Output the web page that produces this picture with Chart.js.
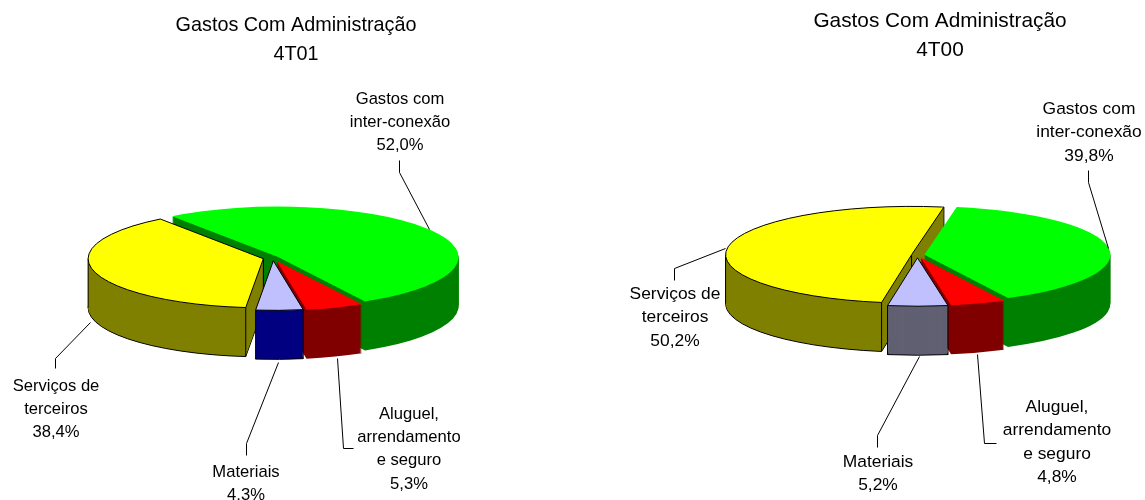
<!DOCTYPE html>
<html><head><meta charset="utf-8">
<style>
html,body{margin:0;padding:0;background:#fff;width:1145px;height:500px;overflow:hidden}
.c{position:absolute;top:0;height:500px}
#a{left:0;width:590px}#b{left:590px;width:555px}
</style>
<script src="https://cdn.jsdelivr.net/npm/chart.js@4"></script>
</head><body>
<div class="c" id="a"><canvas id="c1"></canvas></div>
<div class="c" id="b"><canvas id="c2"></canvas></div>
<script>
const categories = ["Gastos com inter-conexão","Aluguel, arrendamento e seguro","Materiais","Serviços de terceiros"];
const labelLines = [["Gastos com","inter-conexão"],["Aluguel,","arrendamento","e seguro"],["Materiais"],["Serviços de","terceiros"]];
const values4T01 = [52.0,5.3,4.3,38.4];
const values4T00 = [39.8,4.8,5.2,50.2];
const titleLine = "Gastos Com Administração";
const period4T01 = "4T01";
const period4T00 = "4T00";
const topColors = ["#00FF00","#FF0000","#C0C0FF","#FFFF00"];
const wallColors4T01 = ["#008000","#800000","#000080","#808000"];
const wallColors4T00 = ["#008000","#800000","#606072","#808000"];
const outlined = [false,false,true,true];

function pieOpts(cfg, title, period, values, walls){
  const {canvasLeft, canvasW, cx, cy, radius, rotation, squash, depth, explode, radiusScale, titleAt, titleFont, labelFont, labelAt, leaders, paintOrder} = cfg;
  return {
    type:'pie',
    data:{labels:categories,datasets:[{data:values,backgroundColor:topColors,borderWidth:0,radius:radius,rotation:rotation}]},
    options:{
      responsive:false,animation:false,events:[],
      layout:{padding:{left:Math.max(0,2*(cx-canvasLeft)-canvasW),right:Math.max(0,canvasW-2*(cx-canvasLeft)),top:Math.max(0,2*cy-500),bottom:Math.max(0,500-2*cy)}},
      plugins:{legend:{display:false},tooltip:{enabled:false},title:{display:false}}
    },
    plugins:[{
      id:'pie3d',
      beforeDatasetsDraw(chart){
        const ctx=chart.ctx, arcs=chart.getDatasetMeta(0).data;
        const place=(arc,i,k)=>{
          const p=arc.getProps(['x','y','startAngle','endAngle','outerRadius'],true);
          const mid=(p.startAngle+p.endAngle)/2;
          ctx.translate(p.x+Math.cos(mid)*explode[i], p.y+Math.sin(mid)*explode[i]*squash+k);
          ctx.scale(radiusScale[i],squash*radiusScale[i]);
          return p;
        };
        const tracePath=(arc,i,k)=>{
          ctx.save();
          const p=place(arc,i,k);
          ctx.beginPath();ctx.moveTo(0,0);
          ctx.arc(0,0,p.outerRadius,p.startAngle,p.endAngle);
          ctx.closePath();
          ctx.restore();
        };
        const pointOn=(arc,i,ang,r)=>{
          ctx.save();
          place(arc,i,0);
          const m=ctx.getTransform();
          ctx.restore();
          return m.transformPoint(new DOMPoint(Math.cos(ang)*r,Math.sin(ang)*r));
        };
        for(const i of paintOrder){
          const arc=arcs[i];
          const p=arc.getProps(['startAngle','endAngle','outerRadius'],true);
          ctx.fillStyle=walls[i];
          for(let k=depth;k>=1;k--){
            tracePath(arc,i,k);ctx.fill();
            if(k===depth&&outlined[i]){ctx.strokeStyle='#000';ctx.lineWidth=1;ctx.stroke();}
          }
          if(outlined[i]){
            ctx.strokeStyle='#000';ctx.lineWidth=1;
            const angs=[p.startAngle,p.endAngle];
            for(const s of [Math.PI,-Math.PI,0,2*Math.PI,3*Math.PI]) if(s>p.startAngle&&s<p.endAngle) angs.push(s);
            const pts=angs.map(a=>pointOn(arc,i,a,p.outerRadius));
            pts.push(pointOn(arc,i,0,0));
            for(const q of pts){ctx.beginPath();ctx.moveTo(q.x,q.y);ctx.lineTo(q.x,q.y+depth);ctx.stroke();}
          }
          ctx.save();
          const g=arc.getProps(['x','y'],true);
          place(arc,i,0);
          ctx.translate(-g.x,-g.y);
          arc.draw(ctx);
          ctx.restore();
          if(outlined[i]){tracePath(arc,i,0);ctx.strokeStyle='#000';ctx.lineWidth=1;ctx.stroke();}
        }
        return false;
      },
      afterDraw(chart){
        const ctx=chart.ctx;
        ctx.save();
        ctx.translate(-canvasLeft,0);
        ctx.fillStyle='#000';ctx.textAlign='center';ctx.textBaseline='middle';
        ctx.font=titleFont+'px "Liberation Sans", Arial, sans-serif';
        ctx.fillText(title,titleAt[0],titleAt[1]);
        ctx.fillText(period,titleAt[0],titleAt[1]+29);
        ctx.font=labelFont+'px "Liberation Sans", Arial, sans-serif';
        categories.forEach((c,i)=>{
          const lines=[...labelLines[i],values[i].toFixed(1).replace('.',',')+'%'];
          lines.forEach((t,j)=>ctx.fillText(t,labelAt[i][0],labelAt[i][1]+j*23.4));
        });
        ctx.strokeStyle='#000';ctx.lineWidth=1;
        leaders.forEach(l=>{
          ctx.beginPath();
          l.forEach((q,j)=>j?ctx.lineTo(q[0]+.5,q[1]+.5):ctx.moveTo(q[0]+.5,q[1]+.5));
          ctx.stroke();
        });
        ctx.restore();
      }
    }]
  };
}
function size(id,w){const c=document.getElementById(id);c.width=w;c.height=500;c.style.width=w+'px';c.style.height='500px';}
size('c1',590);size('c2',555);

new Chart(document.getElementById('c1'),pieOpts({canvasLeft:0,canvasW:590,cx:273,cy:258,radius:177,rotation:-36,squash:0.28,depth:49,
  explode:[6,11,10,10],radiusScale:[1.02,1,1,0.99],titleAt:[296,25.5],titleFont:19.8,labelFont:16.6,
  labelAt:[[400,99],[409,414],[246,472],[56,386]],
  leaders:[[[399,160],[399,172],[429,229]],[[337,358],[343,448],[353,448]],[[278,362],[246,443],[246,455]],[[90,322],[55,358],[55,368]]],
  paintOrder:[0,3,1,2]},
  titleLine,period4T01,values4T01,wallColors4T01));

new Chart(document.getElementById('c2'),pieOpts({canvasLeft:590,canvasW:555,cx:917.5,cy:255,radius:186,rotation:10,squash:0.26,depth:49,
  explode:[7,10,11,6],radiusScale:[1,1,1,1],titleAt:[940,21.5],titleFont:20.8,labelFont:17.4,
  labelAt:[[1089,109],[1057,407],[878,462],[675,294]],
  leaders:[[[1088,170],[1088,182],[1108,248]],[[977,354],[984,443],[996,443]],[[919,356],[877,435],[877,447]],[[674,280],[674,268],[725,248]]],
  paintOrder:[3,0,1,2]},
  titleLine,period4T00,values4T00,wallColors4T00));
</script>
</body></html>
